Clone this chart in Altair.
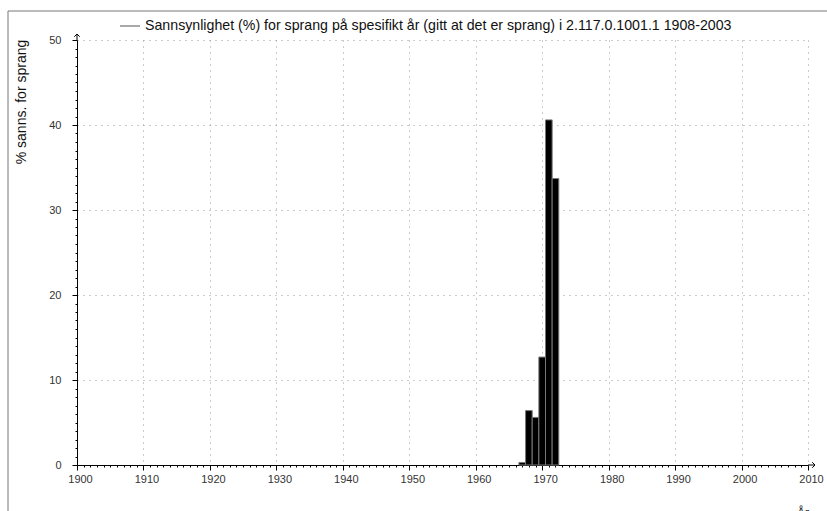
import altair as alt
import pandas as pd

# ---- data ----
years = [1967, 1968, 1969, 1970, 1971, 1972]
probs = [0.3, 6.4, 5.6, 12.7, 40.6, 33.7]

x_domain = [1900, 2010]
y_domain = [0, 50]
x_ticks = list(range(1900, 2011))
y_ticks = list(range(0, 51))

legend_text = "Sannsynlighet (%) for sprang på spesifikt år (gitt at det er sprang) i 2.117.0.1001.1 1908-2003"
y_title = "% sanns. for sprang"
x_title = "År"

FONT = "Liberation Sans"
W, H = 731, 425

df = pd.DataFrame({"year": years, "p": probs})

major10 = "datum.value % 10 === 0"

x_scale = alt.Scale(domain=x_domain, nice=False, zero=False, padding=0)
y_scale = alt.Scale(domain=y_domain, nice=False, padding=0)

x_axis = alt.Axis(
    values=x_ticks,
    format="d",
    labelExpr=f"{major10} ? datum.label : ''",
    title=None,
    domainColor="black",
    domainWidth=1,
    tickColor="black",
    tickSize={"condition": {"test": major10, "value": 5}, "value": 2},
    grid=True,
    gridDash=[1, 5],
    gridColor="#999999",
    gridOpacity={"condition": {"test": major10, "value": 1}, "value": 0},
    labelFont=FONT,
    labelFontSize=11,
    labelColor="#333333",
    labelPadding=3,
    labelOffset=3,
    labelFlush=False,
    labelOverlap=False,
)

y_axis = alt.Axis(
    values=y_ticks,
    format="d",
    labelExpr=f"{major10} ? datum.label : ''",
    title=None,
    domainColor="black",
    domainWidth=1,
    tickColor="black",
    tickSize={"condition": {"test": major10, "value": 5}, "value": 2},
    grid=True,
    gridDash=[1, 5],
    gridColor="#999999",
    gridOpacity={"condition": {"test": major10, "value": 1}, "value": 0},
    labelFont=FONT,
    labelFontSize=11,
    labelColor="#333333",
    labelPadding=11,
    labelOverlap=False,
)

bars = (
    alt.Chart(df)
    .transform_calculate(x0="datum.year - 0.5", x1="datum.year + 0.5")
    .mark_bar(color="black", stroke="#777777", strokeWidth=1)
    .encode(
        x=alt.X("x0:Q", scale=x_scale, axis=x_axis),
        x2="x1:Q",
        y=alt.Y("p:Q", scale=y_scale, axis=y_axis),
        y2=alt.datum(0),
    )
)

one = pd.DataFrame({"a": [0]})
base = alt.Chart(one)

# axis extensions + arrow heads
y_ext = base.mark_rule(color="black", strokeWidth=1).encode(
    x=alt.value(0), y=alt.value(0), y2=alt.value(-6)
)
x_ext = base.mark_rule(color="black", strokeWidth=1).encode(
    x=alt.value(W), x2=alt.value(W + 7), y=alt.value(H)
)
y_arrow = base.mark_point(
    shape="M-1,1 L0,0 L1,1", filled=False, stroke="black", strokeWidth=1, size=30, opacity=1
).encode(x=alt.value(0), y=alt.value(-6))
x_arrow = base.mark_point(
    shape="M-1,-1 L0,0 L-1,1", filled=False, stroke="black", strokeWidth=1, size=30, opacity=1
).encode(x=alt.value(W + 7), y=alt.value(H))

# frame
frame_left = base.mark_rule(color="#777777", strokeWidth=1).encode(
    x=alt.value(-69), y=alt.value(-29), y2=alt.value(H + 60)
)
frame_top = base.mark_rule(color="#777777", strokeWidth=1).encode(
    x=alt.value(-69), x2=alt.value(W + 40), y=alt.value(-29)
)

# legend
leg_line = base.mark_rule(color="#555555", strokeWidth=1).encode(
    x=alt.value(43), x2=alt.value(63), y=alt.value(-14)
)
leg_text = base.mark_text(
    text=legend_text, font=FONT, fontSize=14.2, align="left", baseline="middle", color="#111111"
).encode(x=alt.value(68), y=alt.value(-14))

# titles
ytitle = base.mark_text(
    text=y_title, font=FONT, fontSize=14, angle=270, align="center", baseline="middle", color="#111111"
).encode(x=alt.value(-55), y=alt.value(62))
xtitle = base.mark_text(
    text=x_title, font=FONT, fontSize=12, align="left", baseline="alphabetic", color="#111111"
).encode(x=alt.value(720), y=alt.value(477))

chart = (
    alt.layer(
        bars, y_ext, x_ext, y_arrow, x_arrow, frame_left, frame_top,
        leg_line, leg_text, ytitle, xtitle,
    )
    .properties(
        width=W,
        height=H,
        autosize=alt.AutoSizeParams(type="none"),
        padding={"left": 77, "top": 40, "right": 19, "bottom": 46},
        background="white",
    )
    .configure_view(stroke=None)
)

chart.save("out.html", embed_options={"renderer": "svg", "actions": False})
